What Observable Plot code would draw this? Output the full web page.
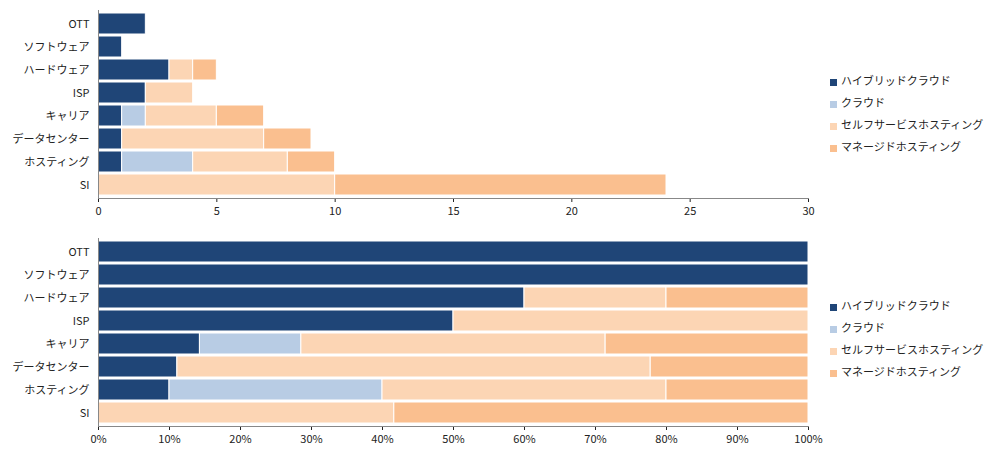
<!DOCTYPE html>
<html><head><meta charset="utf-8">
<script src="https://cdn.jsdelivr.net/npm/d3@7"></script>
<script src="https://cdn.jsdelivr.net/npm/@observablehq/plot@0.6"></script>
<style>
body{margin:0;background:#fff;font-family:"Noto Sans CJK JP",sans-serif;}
#wrap{position:relative;width:1000px;height:454px;}
.chart{position:absolute;left:0;}
.legend{position:absolute;left:830px;font-size:11px;color:#222;line-height:22px;}
.legend span.sw{display:inline-block;width:7px;height:7px;margin-right:4px;vertical-align:middle;}
</style></head><body>
<div id="wrap"></div>
<script>
const categories = ["OTT","ソフトウェア","ハードウェア","ISP","キャリア","データセンター","ホスティング","SI"];
const seriesNames = ["ハイブリッドクラウド","クラウド","セルフサービスホスティング","マネージドホスティング"];
const colors = ["#1f4577","#b8cce4","#fcd5b4","#fabf8f"];
const hybrid  = [2,1,3,2,1,1,1,0];
const cloud   = [0,0,0,0,1,0,3,0];
const self    = [0,0,1,2,3,6,4,10];
const managed = [0,0,1,0,2,2,2,14];
const topTicks = [0,5,10,15,20,25,30];
const pctTicks = [0,0.1,0.2,0.3,0.4,0.5,0.6,0.7,0.8,0.9,1];

const series = [hybrid,cloud,self,managed];
const rows = [];
categories.forEach((c,i)=>series.forEach((s,j)=>rows.push({cat:c,series:seriesNames[j],value:s[i]})));

function make(offset, ticks, fmt){
  return Plot.plot({
    width:1000,height:228,marginLeft:98,marginRight:192,marginTop:10,marginBottom:30,
    style:{fontSize:"11px",fontFamily:"'Noto Sans CJK JP',sans-serif",color:"#222"},
    x:{domain:offset?[0,1]:[0,30],ticks,tickFormat:fmt,label:null,tickSize:4},
    y:{domain:categories,label:null,padding:0.08,tickSize:0},
    color:{domain:seriesNames,range:colors},
    marks:[
      Plot.barX(rows,Plot.stackX({x:"value",y:"cat",fill:"series",order:seriesNames,offset:offset,stroke:"#fff",strokeWidth:1})),
      Plot.ruleY([0],{frameAnchor:"bottom"}),
      Plot.axisX({ticks,tickFormat:fmt,tickSize:4,label:null}),
      Plot.ruleX([0]),
      Plot.frame({anchor:"bottom",stroke:"#888"}),
      Plot.frame({anchor:"left",stroke:"#888"})
    ]
  });
}
const wrap=document.getElementById("wrap");
const c1=make(null,topTicks,d=>d);c1.classList.add("chart");c1.style.top="0px";wrap.appendChild(c1);
const c2=make("normalize",pctTicks,d=>Math.round(d*100)+"%");c2.classList.add("chart");c2.style.top="228px";wrap.appendChild(c2);
function legend(top){
  const d=document.createElement("div");d.className="legend";d.style.top=top+"px";
  d.innerHTML=seriesNames.map((n,i)=>`<div><span class="sw" style="background:${colors[i]}"></span>${n}</div>`).join("");
  wrap.appendChild(d);
}
legend(69);legend(294);
</script></body></html>
